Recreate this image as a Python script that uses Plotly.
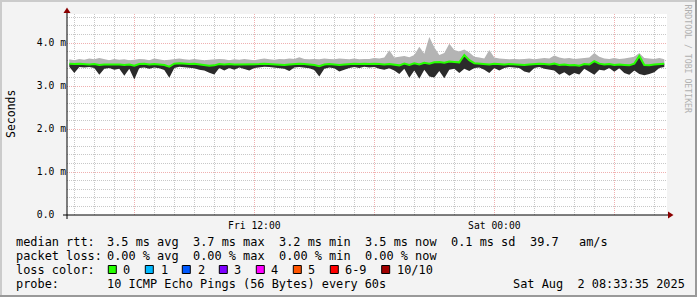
import plotly.graph_objects as go
import pandas as pd

# ---- data (ms), one sample every 15 minutes ----
times = pd.date_range("2025-08-01 02:45", periods=120, freq="15min")

smoke_hi = [3.62, 3.60, 3.63, 3.61, 3.64, 3.62, 3.65, 3.62, 3.60, 3.63,
            3.61, 3.62, 3.60, 3.61, 3.63, 3.62, 3.60, 3.64, 3.62, 3.60,
            3.61, 3.63, 3.64, 3.62, 3.61, 3.63, 3.62, 3.60, 3.61, 3.62,
            3.63, 3.62, 3.60, 3.62, 3.61, 3.63, 3.62, 3.60, 3.62, 3.64,
            3.62, 3.61, 3.63, 3.62, 3.64, 3.63, 3.67, 3.63, 3.62, 3.63,
            3.62, 3.64, 3.63, 3.62, 3.64, 3.63, 3.62, 3.64, 3.62, 3.63,
            3.63, 3.65, 3.64, 3.66, 3.83, 3.66, 3.68, 3.70, 3.67, 3.72,
            3.91, 3.75, 4.14, 3.90, 3.72, 3.77, 3.98, 3.84, 3.80, 3.85,
            3.78, 3.68, 3.66, 3.64, 3.84, 3.66, 3.64, 3.63, 3.62, 3.63,
            3.62, 3.63, 3.64, 3.62, 3.63, 3.65, 3.64, 3.71, 3.66, 3.64,
            3.65, 3.63, 3.64, 3.65, 3.66, 3.77, 3.68, 3.64, 3.63, 3.65,
            3.63, 3.64, 3.66, 3.68, 3.77, 3.65, 3.64, 3.63, 3.65, 3.62]

median = [3.52, 3.51, 3.52, 3.51, 3.50, 3.51, 3.49, 3.50, 3.50, 3.51,
          3.50, 3.49, 3.50, 3.47, 3.51, 3.52, 3.50, 3.51, 3.50, 3.49,
          3.45, 3.52, 3.53, 3.52, 3.51, 3.52, 3.50, 3.49, 3.47, 3.48,
          3.51, 3.50, 3.51, 3.50, 3.50, 3.51, 3.50, 3.50, 3.51, 3.52,
          3.51, 3.50, 3.50, 3.49, 3.50, 3.51, 3.52, 3.51, 3.50, 3.49,
          3.46, 3.50, 3.51, 3.50, 3.49, 3.50, 3.51, 3.52, 3.51, 3.52,
          3.51, 3.52, 3.51, 3.50, 3.51, 3.50, 3.48, 3.52, 3.49, 3.53,
          3.50, 3.54, 3.52, 3.55, 3.56, 3.54, 3.57, 3.56, 3.55, 3.72,
          3.60, 3.53, 3.52, 3.51, 3.50, 3.52, 3.51, 3.50, 3.51, 3.50,
          3.50, 3.49, 3.50, 3.51, 3.52, 3.51, 3.50, 3.52, 3.49, 3.50,
          3.48, 3.49, 3.47, 3.51, 3.50, 3.58, 3.52, 3.50, 3.51, 3.49,
          3.50, 3.49, 3.48, 3.52, 3.70, 3.49, 3.48, 3.50, 3.51, 3.52]

smoke_lo = [3.45, 3.30, 3.44, 3.43, 3.44, 3.42, 3.26, 3.40, 3.42, 3.38,
            3.40, 3.24, 3.40, 3.15, 3.42, 3.43, 3.40, 3.43, 3.41, 3.37,
            3.19, 3.42, 3.45, 3.44, 3.43, 3.41, 3.38, 3.36, 3.31, 3.27,
            3.42, 3.36, 3.42, 3.38, 3.43, 3.40, 3.36, 3.42, 3.44, 3.45,
            3.44, 3.43, 3.42, 3.40, 3.35, 3.43, 3.44, 3.42, 3.41, 3.37,
            3.22, 3.40, 3.43, 3.41, 3.34, 3.38, 3.42, 3.44, 3.42, 3.45,
            3.43, 3.44, 3.40, 3.38, 3.41, 3.36, 3.28, 3.40, 3.19, 3.36,
            3.17, 3.38, 3.22, 3.20, 3.35, 3.18, 3.38, 3.40, 3.30, 3.40,
            3.35, 3.42, 3.43, 3.38, 3.30, 3.42, 3.36, 3.42, 3.44, 3.43,
            3.42, 3.34, 3.31, 3.42, 3.44, 3.40, 3.38, 3.36, 3.26, 3.32,
            3.24, 3.30, 3.27, 3.40, 3.33, 3.26, 3.38, 3.36, 3.42, 3.33,
            3.41, 3.30, 3.26, 3.36, 3.28, 3.25, 3.28, 3.32, 3.42, 3.44]

x_tickvals = ["2025-08-01 06:00", "2025-08-01 12:00", "2025-08-01 18:00",
              "2025-08-02 00:00", "2025-08-02 06:00"]
x_ticktext = ["", "Fri 12:00", "", "Sat 00:00", ""]
y_tickvals = [0, 1, 2, 3, 4]
y_ticktext = ["0.0<span style='color:rgba(0,0,0,0)'>mm</span>",
              "1.0 m", "2.0 m", "3.0 m", "4.0 m"]

loss_labels = ["0", "1", "2", "3", "4", "5", "6-9", "10/10"]
loss_colors = ["#26ff00", "#00b8ff", "#0059ff", "#7e00ff", "#ff00ff",
               "#ff5500", "#ff0000", "#a10000"]

rtt_items = ["median rtt:", "3.5 ms avg", "3.7 ms max", "3.2 ms min",
             "3.5 ms now", "0.1 ms sd", "39.7", "am/s"]
loss_items = ["packet loss:", "0.00 % avg", "0.00 % max", "0.00 % min", "0.00 % now"]
probe_items = ["probe:", "10 ICMP Echo Pings (56 Bytes) every 60s"]
stamp_text = "Sat Aug  2 08:33:35 2025"

# ---- geometry helpers (pixel -> paper) ----
L, R, T, B = 67, 667, 14, 215
W, H = 697, 297
def px(x):
    return (x - L) / (R - L)
def py(y):
    return (B - y) / (B - T)
def nb(s):
    return s.replace(" ", "\u00a0")

MONO = "DejaVu Sans Mono"

fig = go.Figure()
fig.add_trace(go.Scatter(x=times, y=smoke_lo, mode="lines", line=dict(width=0),
                         showlegend=False, hoverinfo="skip"))
fig.add_trace(go.Scatter(x=times, y=median, mode="lines", line=dict(width=0),
                         fill="tonexty", fillcolor="#2b2b2b",
                         showlegend=False, hoverinfo="skip"))
fig.add_trace(go.Scatter(x=times, y=smoke_hi, mode="lines", line=dict(width=0),
                         fill="tonexty", fillcolor="#b4b4b4",
                         showlegend=False, hoverinfo="skip"))
fig.add_trace(go.Scatter(x=times, y=median, mode="lines",
                         line=dict(width=2, color=loss_colors[0]),
                         showlegend=False))

major = "#f0b0b0"
minor = "#c8c8c8"
fig.update_layout(
    width=W, height=H,
    margin=dict(l=L, r=W - R, t=T, b=H - B, pad=0),
    paper_bgcolor="#f3f3f3", plot_bgcolor="#ffffff",
    showlegend=False,
    xaxis=dict(type="date",
               range=["2025-08-01 02:38:06", "2025-08-02 08:38:06"],
               tickmode="array", tickvals=x_tickvals, ticktext=x_ticktext,
               showgrid=True, gridcolor=major, gridwidth=1, griddash="1px,1px",
               minor=dict(tickmode="linear", tick0="2025-08-01 00:00",
                          dtick=3600000, showgrid=True, gridcolor=minor,
                          griddash="1px,1px", gridwidth=1),
               zeroline=False, showline=False, ticks="", ticklabelstandoff=3,
               tickfont=dict(family=MONO, size=9.7, color="#000")),
    yaxis=dict(range=[0, (B - T) / 43.0],
               tickmode="array", tickvals=y_tickvals, ticktext=y_ticktext,
               showgrid=True, gridcolor=major, gridwidth=1, griddash="1px,1px",
               minor=dict(tickmode="linear", tick0=0, dtick=0.2, showgrid=True,
                          gridcolor=minor, griddash="1px,1px", gridwidth=1),
               zeroline=False, showline=False, ticks="",
               tickfont=dict(family=MONO, size=9.7, color="#000")),
)

shapes = []
# frame shading
shapes.append(dict(type="rect", xref="paper", yref="paper", x0=px(0), x1=px(W), y0=py(0), y1=py(2),
                   fillcolor="#cbcbcb", line=dict(width=0)))
shapes.append(dict(type="rect", xref="paper", yref="paper", x0=px(0), x1=px(2), y0=py(0), y1=py(H),
                   fillcolor="#cbcbcb", line=dict(width=0)))
shapes.append(dict(type="rect", xref="paper", yref="paper", x0=px(0), x1=px(W), y0=py(H - 2), y1=py(H),
                   fillcolor="#999999", line=dict(width=0)))
shapes.append(dict(type="rect", xref="paper", yref="paper", x0=px(W - 2), x1=px(W), y0=py(0), y1=py(H),
                   fillcolor="#999999", line=dict(width=0)))
# axes
shapes.append(dict(type="line", xref="paper", yref="paper", x0=px(63), x1=px(669), y0=0, y1=0,
                   line=dict(color="#000", width=1)))
shapes.append(dict(type="line", xref="paper", yref="paper", x0=0, x1=0, y0=py(219), y1=py(11),
                   line=dict(color="#000", width=1)))
# arrows
shapes.append(dict(type="path", xref="paper", yref="paper",
                   path=f"M {px(67)},{py(7.5)} L {px(63.5)},{py(13)} L {px(70.5)},{py(13)} Z",
                   fillcolor="#8b0000", line=dict(width=0)))
shapes.append(dict(type="path", xref="paper", yref="paper",
                   path=f"M {px(673.5)},{py(215)} L {px(668)},{py(211.5)} L {px(668)},{py(218.5)} Z",
                   fillcolor="#8b0000", line=dict(width=0)))

annotations = []
def ann(text, x, y, size=11.9, color="#000", xanchor="left", **kw):
    annotations.append(dict(text=nb(text), x=px(x), y=py(y), xref="paper", yref="paper",
                            showarrow=False, xanchor=xanchor, yanchor="middle",
                            borderpad=0, borderwidth=0,
                            font=dict(family=MONO, size=size, color=color), **kw))

rtt_x = [16, 107.3, 193.3, 279.3, 365.0, 451.0, 530.0, 579.3]
for t, x in zip(rtt_items, rtt_x):
    ann(t, x, 241.5)
loss_x = [16, 107.3, 193.3, 279.3, 365.0]
for t, x in zip(loss_items, loss_x):
    ann(t, x, 255.5)
ann("loss color:", 16, 269.5)
sq_x = [108.3, 145.3, 182.3, 219.3, 256.3, 293.3, 330.3, 381.7]
lbl_x = [123.3, 160.7, 197.7, 234.3, 271.3, 308.3, 345.3, 396.7]
for c, lab, sx, lx in zip(loss_colors, loss_labels, sq_x, lbl_x):
    shapes.append(dict(type="rect", xref="paper", yref="paper",
                       x0=px(sx), x1=px(sx + 8), y0=py(273.5), y1=py(265.5),
                       fillcolor=c, line=dict(color="#000", width=1)))
    ann(lab, lx, 269.5)
ann(probe_items[0], 16, 283.5)
ann(probe_items[1], 107.3, 283.5)
ann(stamp_text, 513.3, 283.5)

ann("Seconds", 11, 114, size=11.5, xanchor="center", textangle=-90)
ann("RRDTOOL / TOBI OETIKER", 687.5, 59, size=8.2, color="#b0b0b0",
    xanchor="center", textangle=90)

fig.update_layout(shapes=shapes, annotations=annotations)
fig.write_html("out.html")
